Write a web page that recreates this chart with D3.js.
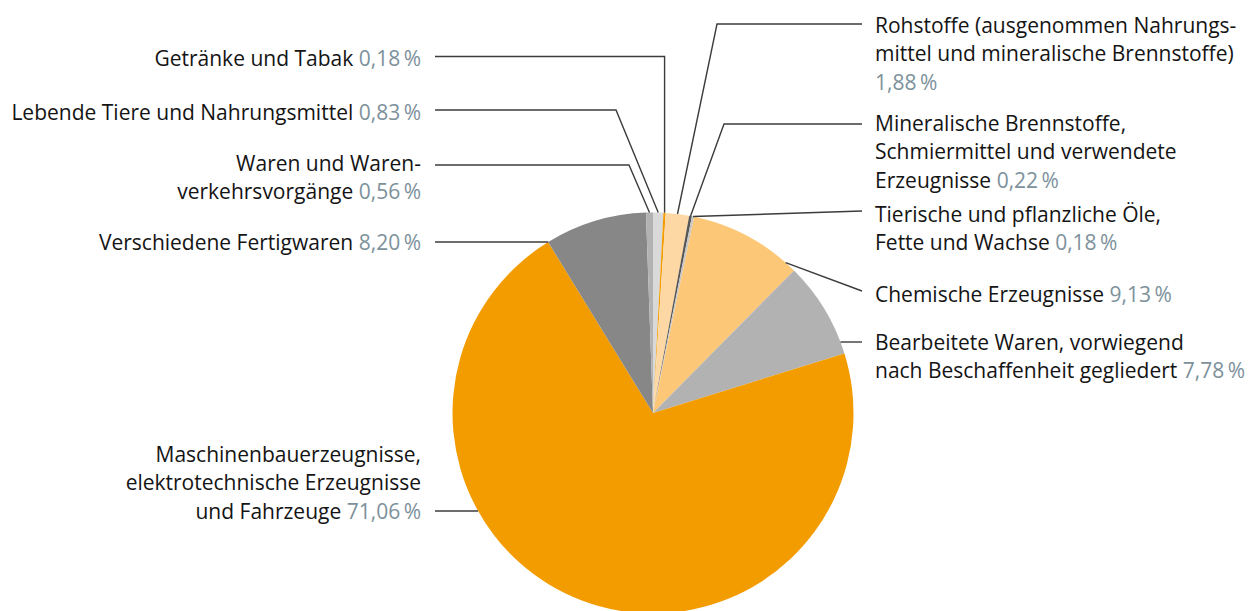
<!DOCTYPE html>
<html><head><meta charset="utf-8">
<script src="https://cdn.jsdelivr.net/npm/d3@7"></script>
<style>body{margin:0;background:#fff} text{font-family:"Open Sans",sans-serif}</style>
</head><body><svg id="c" width="1250" height="611"></svg>
<script>
// ---- data ----
const categories = [
  "Lebende Tiere und Nahrungsmittel",
  "Getränke und Tabak",
  "Rohstoffe (ausgenommen Nahrungsmittel und mineralische Brennstoffe)",
  "Mineralische Brennstoffe, Schmiermittel und verwendete Erzeugnisse",
  "Tierische und pflanzliche Öle, Fette und Wachse",
  "Chemische Erzeugnisse",
  "Bearbeitete Waren, vorwiegend nach Beschaffenheit gegliedert",
  "Maschinenbauerzeugnisse, elektrotechnische Erzeugnisse und Fahrzeuge",
  "Verschiedene Fertigwaren",
  "Waren und Warenverkehrsvorgänge"
];
const values = [0.83, 0.18, 1.88, 0.22, 0.18, 9.13, 7.78, 71.06, 8.20, 0.56];
const labelLines = [
  ["Lebende Tiere und Nahrungsmittel"],
  ["Getränke und Tabak"],
  ["Rohstoffe (ausgenommen Nahrungs-", "mittel und mineralische Brennstoffe)", ""],
  ["Mineralische Brennstoffe,", "Schmiermittel und verwendete", "Erzeugnisse"],
  ["Tierische und pflanzliche Öle,", "Fette und Wachse"],
  ["Chemische Erzeugnisse"],
  ["Bearbeitete Waren, vorwiegend", "nach Beschaffenheit gegliedert"],
  ["Maschinenbauerzeugnisse,", "elektrotechnische Erzeugnisse", "und Fahrzeuge"],
  ["Verschiedene Fertigwaren"],
  ["Waren und Waren-", "verkehrsvorgänge"]
];
const colors = ["#d9d9d9", "#f39c00", "#fed8a4", "#575756", "#c6c6c6",
                "#fcc878", "#b2b2b2", "#f39c00", "#878787", "#b2b2b2"];

// ---- layout (label placement) ----
const labelSide     = ["L","L","R","R","R","R","R","L","L","L"];
const labelBaseline = [120, 66, 33, 131, 222, 302, 350, 462, 250, 171];
const leaderY       = [110, 56.5, 24, 124, 211, 291, 342, 511, 242, 165];
const leaderElbowX  = [616, "v", 717, 724, null, null, null, null, null, 629];
const leaderAnchor  = [0.5, 0.5, 0.5, 0.5, 0.5, 0.9, "h", "h", "h", 0.5];

const W = 1250, H = 611, cx = 653, cy = 413, R = 200.5;
const lineH = 28.3, fontSize = 21;
const leftTextX = 421, rightTextX = 875, leftLineX = 435, rightLineX = 862;

const svg = d3.select("#c");
const pie = d3.pie().sort(null).value(d => d);
const arcs = pie(values);
const arc = d3.arc().innerRadius(0).outerRadius(R);

const g = svg.append("g").attr("transform", `translate(${cx},${cy})`);
g.selectAll("path").data(arcs).join("path")
  .attr("d", arc).attr("fill", (d, i) => colors[i]);

const fmt = v => d3.format(".2f")(v).replace(".", ",") + "\u2009%";

function anchorPoint(i) {
  const a = arcs[i];
  const mode = leaderAnchor[i];
  if (mode === "h") {
    const dy = leaderY[i] - cy;
    const dx = Math.sqrt(R * R - dy * dy);
    return [labelSide[i] === "L" ? cx - dx : cx + dx, leaderY[i]];
  }
  const ang = a.startAngle + mode * (a.endAngle - a.startAngle);
  return [cx + R * Math.sin(ang), cy - R * Math.cos(ang)];
}

const line = d3.line();
categories.forEach((c, i) => {
  const side = labelSide[i];
  const p = anchorPoint(i);
  const startX = side === "L" ? leftLineX : rightLineX;
  const pts = [[startX, leaderY[i]]];
  const e = leaderElbowX[i];
  if (e === "v") pts.push([p[0], leaderY[i]]);
  else if (e !== null) pts.push([e, leaderY[i]]);
  pts.push(p);
  svg.append("path").attr("d", line(pts))
    .attr("fill", "none").attr("stroke", "#3c3c3b").attr("stroke-width", 1.4);

  const lines = labelLines[i];
  const t = svg.append("text")
    .attr("x", side === "L" ? leftTextX : rightTextX)
    .attr("text-anchor", side === "L" ? "end" : "start")
    .attr("font-size", fontSize).attr("fill", "#141414");
  lines.forEach((ln, k) => {
    const ts = t.append("tspan")
      .attr("x", side === "L" ? leftTextX : rightTextX)
      .attr("y", labelBaseline[i] + k * lineH);
    if (k === lines.length - 1) {
      if (ln !== "") ts.append("tspan").text(ln + " ");
      ts.append("tspan").attr("fill", "#7d919b").text(fmt(values[i]));
    } else {
      ts.text(ln);
    }
  });
});
</script></body></html>
